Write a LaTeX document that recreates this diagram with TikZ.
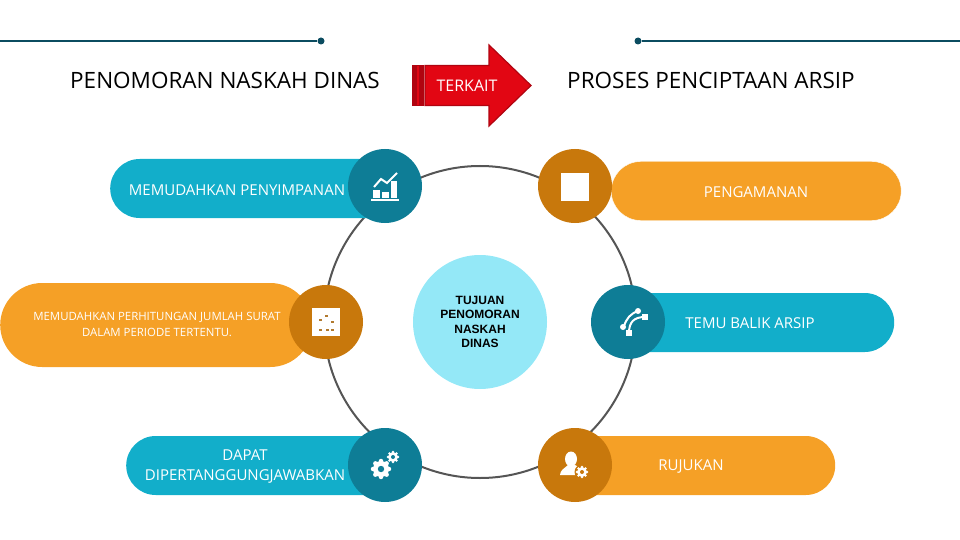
\documentclass[tikz,border=0pt]{standalone}
\usepackage{fontspec}
\setmainfont{Open Sans}
\newfontfamily\labelfont{Liberation Sans}
\usetikzlibrary{positioning,arrows.meta,shapes.geometric,shapes.arrows}
\definecolor{naskahteal}{RGB}{18,174,202}
\definecolor{naskahdeep}{RGB}{14,125,150}
\definecolor{naskahorange}{RGB}{245,160,38}
\definecolor{naskahbrown}{RGB}{200,120,12}
\definecolor{naskahline}{RGB}{11,76,96}
\definecolor{naskahcore}{RGB}{148,232,247}
\definecolor{naskahred}{RGB}{226,6,19}
\definecolor{naskahdark}{RGB}{176,4,16}
\definecolor{naskahring}{RGB}{85,85,85}

\begin{document}
\begin{tikzpicture}[
  x=1pt, y=-1pt,
  pill/.style={rounded corners=29.5pt, minimum height=59pt, inner sep=0pt, anchor=west},
  tealpill/.style={pill, fill=naskahteal},
  orangepill/.style={pill, fill=naskahorange},
  badge/.style={circle, minimum size=74pt, inner sep=0pt},
  tealbadge/.style={badge, fill=naskahdeep},
  brownbadge/.style={badge, fill=naskahbrown},
  caption/.style={font=\fontsize{22.5}{25}\selectfont, text=black},
  pilltext/.style={font=\fontsize{15}{19}\selectfont, text=white, align=center},
  icon/.style={fill=white, draw=none},
  rule/.style={draw=naskahline, line width=1.4pt}]
\useasboundingbox (0,0) rectangle (960,540);

% rules under the top edge
\coordinate (ruleleft) at (0,41);
\coordinate (ruleright) at (960,41);
\node[circle, fill=naskahline, minimum size=7pt, inner sep=0pt] (dotleft) at (321,41) {};
\node[circle, fill=naskahline, minimum size=7pt, inner sep=0pt] (dotright) at (638,41) {};
\draw[rule] (ruleleft) -- (dotleft);
\draw[rule] (dotright) -- (ruleright);

\node[caption] (titleleft) at (225,80) {PENOMORAN NASKAH DINAS};
\node[caption] (titleright) at (711,80) {PROSES PENCIPTAAN ARSIP};

% arrow
\fill[naskahdark] (412,65) rectangle (424,106);
\draw[naskahred, line width=1.5pt] (418,66) -- (418,105);
\draw[fill=naskahred, draw=naskahdark, line width=1.2pt] (425,65.5) -- (489,65.5) -- (489,45) -- (531,85.5)
  -- (489,126) -- (489,105.5) -- (425,105.5) -- cycle;
\node[font=\fontsize{16}{18}\selectfont, text=white] (terkait) at (467,86) {TERKAIT};

% ring and pills
\node[circle, draw=naskahring, line width=2pt, minimum size=312pt, inner sep=0pt] (ring) at (480,322) {};
\node[tealpill, minimum width=290pt] (simpan) at (110,188.5) {};
\node[orangepill, rounded corners=42pt, minimum height=84pt, minimum width=312pt] (hitung) at (0,325) {};
\node[tealpill, minimum width=290pt] (tanggung) at (126,465.5) {};
\node[orangepill, draw=white, minimum width=290pt] (aman) at (611,191) {};
\node[tealpill, minimum width=294pt] (temu) at (600,322.5) {};
\node[orangepill, minimum width=275pt] (rujuk) at (560,465.5) {};

\node[pilltext] at (237,190) {MEMUDAHKAN PENYIMPANAN};
\node[pilltext, font=\fontsize{11.4}{16}\selectfont] at (157,324.5) {MEMUDAHKAN PERHITUNGAN JUMLAH SURAT\\DALAM PERIODE TERTENTU.};
\node[pilltext, font=\fontsize{15}{20}\selectfont] at (245,467) {DAPAT\\DIPERTANGGUNGJAWABKAN};
\node[pilltext] at (756,192) {PENGAMANAN};
\node[pilltext] at (750,323) {TEMU BALIK ARSIP};
\node[pilltext] at (691,467) {RUJUKAN};

\node[circle, fill=naskahcore, minimum size=134pt, inner sep=0pt, font=\labelfont\bfseries\fontsize{12}{14.3}\selectfont, align=center, text=black] (core) at (480,322) {TUJUAN\\PENOMORAN\\NASKAH\\DINAS};

% badges
\node[tealbadge] (b1) at (385,186) {};
\node[brownbadge] (b2) at (575,186) {};
\node[brownbadge] (b3) at (326,322) {};
\node[tealbadge] (b4) at (628,322) {};
\node[tealbadge] (b5) at (385,465) {};
\node[brownbadge] (b6) at (575,465) {};

% icons
\fill[icon] (371,199) rectangle (399,201);
\fill[icon] (373,190) rectangle (380,198);
\fill[icon] (382,192) rectangle (389,198);
\fill[icon] (391,181) rectangle (397,198);
\draw[white, line width=2pt] (374,187) -- (381,179) -- (387,183) -- (397,173);
\fill[icon] (561,173) rectangle (589,201);
\fill[icon] (312,308) rectangle (340,336);
\foreach \px/\py in {326/316,320/320,332/322,320/330,327/330,332/330}
  \fill[naskahbrown!70!gray] (\px-1.5,\py-0.7) rectangle (\px+1.5,\py+0.7);
\draw[white, line width=2pt] (624,326) .. controls (627,318) and (630,314) .. (638,311);
\draw[white, line width=2pt] (629,333) .. controls (629,322) and (634,317) .. (645,317);
\fill[icon] (623,327) circle (3pt) (638,311) circle (3pt);
\fill[icon] (626,330) rectangle (632,336);
\fill[icon] (642,314) rectangle (648,320);
\foreach \gx/\gy/\gr in {381/469/8,393/457/5} {
  \fill[white] (\gx,\gy) circle (\gr pt);
  \foreach \ga in {0,45,...,315}
    \fill[white] (\gx,\gy) ++(\ga:\gr pt) circle (0.28*\gr pt);
  \fill[naskahdeep] (\gx,\gy) circle (0.4*\gr pt);
}
\fill[icon] (571,459) ellipse (6pt and 7.5pt);
\fill[icon] (560,475) .. controls (560,470) and (565,468) .. (568,465) -- (575,465)
  .. controls (578,467) and (581,468) .. (583,470) -- (580,475) -- cycle;
\fill[naskahbrown] (582,472) circle (7.5pt);
\fill[white] (582,472) circle (5pt);
\foreach \ga in {0,45,...,315}
  \fill[white] (582,472) ++(\ga:5pt) circle (1.4pt);
\fill[naskahbrown] (582,472) circle (2pt);
\end{tikzpicture}
\end{document}
